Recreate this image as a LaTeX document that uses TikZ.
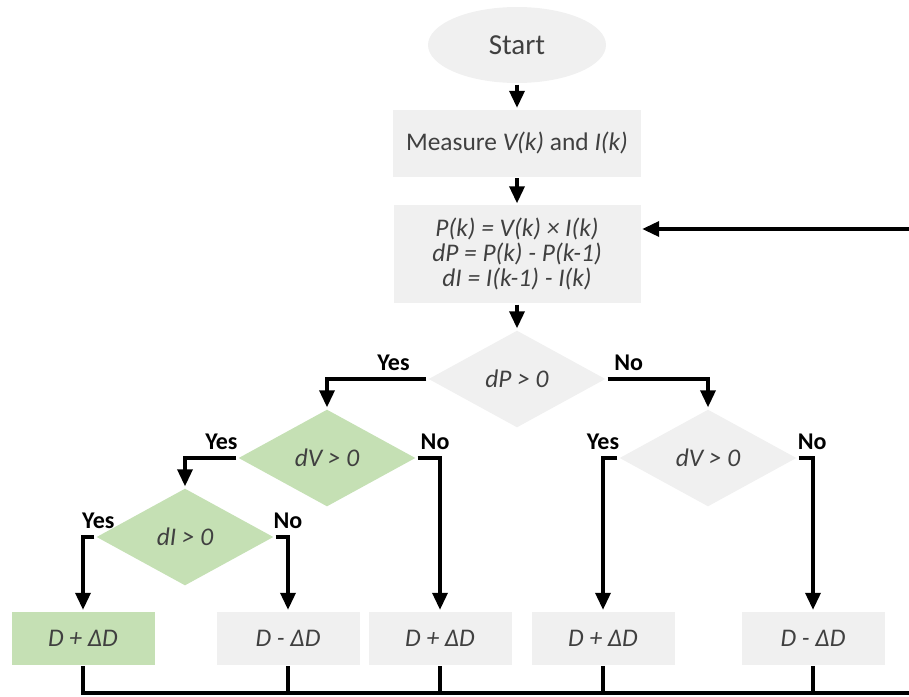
\documentclass[tikz,border=0pt]{standalone}
\usepackage{fontspec}
\setmainfont{Carlito}
\usetikzlibrary{shapes.geometric,arrows.meta}
\definecolor{boxgray}{HTML}{F0F0F0}
\definecolor{boxgreen}{HTML}{C5E0B4}
\definecolor{txtgray}{HTML}{404040}
\newcommand{\tightlines}{\lineskiplimit -8pt\relax}
\begin{document}
\begin{tikzpicture}[
                                x = 0.5pt,
                                y = -0.5pt,
                                > = {Triangle[width=7.5pt,length=8.5pt]},
                                line width = 1.7pt
                                ]

                                \tikzstyle{terminal}=[
                                        ellipse,
                                        fill = boxgray,
                                        inner sep = 0pt,
                                        minimum width = 89pt,
                                        minimum height = 38pt,
                                        text = txtgray,
                                        font = \fontsize{14.5}{16}\selectfont
                                ]
                                \tikzstyle{process}=[
                                        rectangle,
                                        fill = boxgray,
                                        inner sep = 0pt,
                                        align = center,
                                        text = txtgray,
                                        font = \fontsize{12.7}{12.5}\selectfont\tightlines
                                ]
                                \tikzstyle{decision}=[
                                        diamond,
                                        aspect = 1.8,
                                        fill = boxgray,
                                        inner sep = 0pt,
                                        minimum width = 89pt,
                                        minimum height = 49pt,
                                        text = txtgray,
                                        font = \fontsize{12.7}{12.5}\selectfont\itshape
                                ]
                                \tikzstyle{result}=[
                                        process,
                                        minimum width = 71.5pt,
                                        minimum height = 26.5pt,
                                        font = \fontsize{12.7}{12.5}\selectfont\itshape
                                ]
                                \tikzstyle{yn}=[
                                        font = \fontsize{12}{14}\selectfont\bfseries
                                ]

                                \useasboundingbox (0,0) rectangle (909,696);

                                \node[terminal] (start) at (517,45) {Start};
                                \node[process, minimum width = 124pt, minimum height = 33.5pt] (measure) at (517,143) {Measure \textit{V(k)} and \textit{I(k)}};
                                \node[process, minimum width = 123.5pt, minimum height = 49pt, font = \fontsize{12.7}{12.5}\selectfont\tightlines\itshape] (calc) at (517,254) {P(k) = V(k) × I(k)\\dP = P(k) - P(k-1)\\dI = I(k-1) - I(k)};
                                \node[decision] (dp) at (517,379) {dP > 0};
                                \node[decision, fill = boxgreen] (dv1) at (327,458) {dV > 0};
                                \node[decision] (dv2) at (708,458) {dV > 0};
                                \node[decision, fill = boxgreen] (di) at (185,537) {dI > 0};
                                \node[result, fill = boxgreen] (box1) at (83,638) {D + ΔD};
                                \node[result] (box2) at (288,638) {D - ΔD};
                                \node[result] (box3) at (440,638) {D + ΔD};
                                \node[result] (box4) at (603,638) {D + ΔD};
                                \node[result] (box5) at (813,638) {D - ΔD};
                                \coordinate (busr) at (920,693);
                                \coordinate (loopr) at (920,229);

                                \draw[->] (start) -- (measure);
                                \draw[->] (measure) -- (calc);
                                \draw[->] (calc) -- (dp);
                                \draw[->] (dp.west) -| node[yn, pos=0.165, above] {Yes} (dv1.north);
                                \draw[->] (dp.east) -| node[yn, pos=0.105, above] {No} (dv2.north);
                                \draw[->] (dv1.west) -| node[yn, pos=0.145, above] {Yes} (di.north);
                                \draw[->] (dv1.east) -| node[yn, pos=0.39, above] {No} (box3.north);
                                \draw[->] (di.west) -| node[yn, pos=0, above, xshift=2pt] {Yes} (box1.north);
                                \draw[->] (di.east) -| node[yn, pos=0.5, above] {No} (box2.north);
                                \draw[->] (dv2.west) -| node[yn, pos=0.5, above] {Yes} (box4.north);
                                \draw[->] (dv2.east) -| node[yn, pos=0.47, above] {No} (box5.north);

                                \draw (box2.south) -- (box2.south |- busr);
                                \draw (box3.south) -- (box3.south |- busr);
                                \draw (box4.south) -- (box4.south |- busr);
                                \draw (box5.south) -- (box5.south |- busr);
                                \draw[->] (box1.south) |- (busr) |- (calc.east |- loopr);
\end{tikzpicture}
\end{document}
